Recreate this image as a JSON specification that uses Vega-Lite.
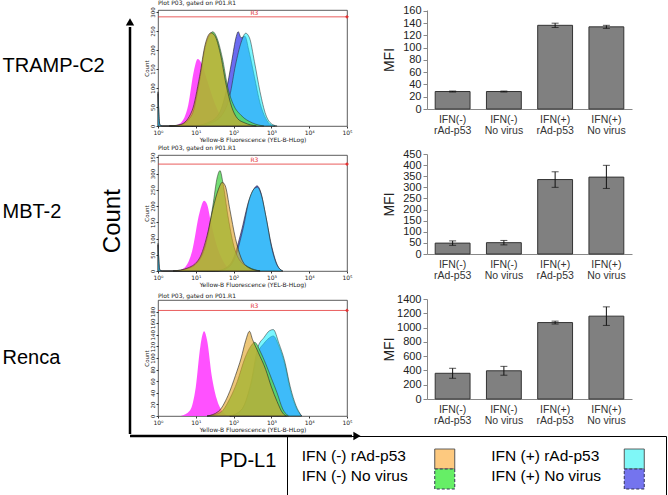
{
  "$schema": "https://vega.github.io/schema/vega-lite/v6.json",
  "padding": {"left": 2, "top": -1, "right": 0, "bottom": 0},
  "background": "white",
  "spacing": -14.5,
  "config": {"font": "Liberation Sans", "view": {"stroke": null}},
  "datasets": {
    "hist": [
      {"p":"T","s":"mag","x":0.4,"y":0},{"p":"T","s":"mag","x":0.6,"y":8},{"p":"T","s":"mag","x":0.8,"y":55},{"p":"T","s":"mag","x":0.95,"y":145},{"p":"T","s":"mag","x":1.05,"y":176},{"p":"T","s":"mag","x":1.15,"y":165},{"p":"T","s":"mag","x":1.3,"y":120},{"p":"T","s":"mag","x":1.5,"y":60},{"p":"T","s":"mag","x":1.7,"y":20},{"p":"T","s":"mag","x":1.9,"y":5},{"p":"T","s":"mag","x":2.1,"y":0},
      {"p":"T","s":"blue","x":0,"y":90},{"p":"T","s":"blue","x":0.05,"y":3},{"p":"T","s":"blue","x":0.12,"y":0},{"p":"T","s":"blue","x":0.9,"y":0},{"p":"T","s":"blue","x":1.3,"y":8},{"p":"T","s":"blue","x":1.6,"y":30},{"p":"T","s":"blue","x":1.8,"y":90},{"p":"T","s":"blue","x":1.95,"y":170},{"p":"T","s":"blue","x":2.07,"y":235},{"p":"T","s":"blue","x":2.12,"y":248},{"p":"T","s":"blue","x":2.2,"y":232},{"p":"T","s":"blue","x":2.3,"y":236},{"p":"T","s":"blue","x":2.4,"y":200},{"p":"T","s":"blue","x":2.55,"y":130},{"p":"T","s":"blue","x":2.7,"y":60},{"p":"T","s":"blue","x":2.85,"y":20},{"p":"T","s":"blue","x":3.0,"y":2},{"p":"T","s":"blue","x":3.1,"y":0},
      {"p":"T","s":"cyan","x":0,"y":85},{"p":"T","s":"cyan","x":0.05,"y":3},{"p":"T","s":"cyan","x":0.12,"y":0},{"p":"T","s":"cyan","x":1.0,"y":0},{"p":"T","s":"cyan","x":1.4,"y":8},{"p":"T","s":"cyan","x":1.7,"y":30},{"p":"T","s":"cyan","x":1.9,"y":80},{"p":"T","s":"cyan","x":2.05,"y":160},{"p":"T","s":"cyan","x":2.2,"y":220},{"p":"T","s":"cyan","x":2.32,"y":244},{"p":"T","s":"cyan","x":2.42,"y":232},{"p":"T","s":"cyan","x":2.55,"y":170},{"p":"T","s":"cyan","x":2.7,"y":90},{"p":"T","s":"cyan","x":2.85,"y":30},{"p":"T","s":"cyan","x":3.0,"y":6},{"p":"T","s":"cyan","x":3.15,"y":0},
      {"p":"T","s":"orange","x":0.3,"y":0},{"p":"T","s":"orange","x":0.6,"y":4},{"p":"T","s":"orange","x":0.9,"y":40},{"p":"T","s":"orange","x":1.1,"y":130},{"p":"T","s":"orange","x":1.25,"y":215},{"p":"T","s":"orange","x":1.4,"y":245},{"p":"T","s":"orange","x":1.5,"y":238},{"p":"T","s":"orange","x":1.65,"y":190},{"p":"T","s":"orange","x":1.8,"y":110},{"p":"T","s":"orange","x":1.95,"y":50},{"p":"T","s":"orange","x":2.1,"y":20},{"p":"T","s":"orange","x":2.3,"y":8},{"p":"T","s":"orange","x":2.6,"y":0},
      {"p":"T","s":"green","x":0.3,"y":0},{"p":"T","s":"green","x":0.6,"y":3},{"p":"T","s":"green","x":0.9,"y":30},{"p":"T","s":"green","x":1.1,"y":120},{"p":"T","s":"green","x":1.25,"y":208},{"p":"T","s":"green","x":1.38,"y":242},{"p":"T","s":"green","x":1.45,"y":248},{"p":"T","s":"green","x":1.55,"y":234},{"p":"T","s":"green","x":1.7,"y":180},{"p":"T","s":"green","x":1.85,"y":100},{"p":"T","s":"green","x":2.0,"y":55},{"p":"T","s":"green","x":2.2,"y":28},{"p":"T","s":"green","x":2.5,"y":8},{"p":"T","s":"green","x":2.8,"y":0},

      {"p":"M","s":"mag","x":0.5,"y":0},{"p":"M","s":"mag","x":0.7,"y":10},{"p":"M","s":"mag","x":0.9,"y":60},{"p":"M","s":"mag","x":1.1,"y":180},{"p":"M","s":"mag","x":1.22,"y":216},{"p":"M","s":"mag","x":1.3,"y":205},{"p":"M","s":"mag","x":1.4,"y":150},{"p":"M","s":"mag","x":1.55,"y":80},{"p":"M","s":"mag","x":1.75,"y":25},{"p":"M","s":"mag","x":2.0,"y":0},
      {"p":"M","s":"blue","x":0,"y":85},{"p":"M","s":"blue","x":0.05,"y":3},{"p":"M","s":"blue","x":0.12,"y":0},{"p":"M","s":"blue","x":1.5,"y":0},{"p":"M","s":"blue","x":1.8,"y":10},{"p":"M","s":"blue","x":2.0,"y":40},{"p":"M","s":"blue","x":2.2,"y":120},{"p":"M","s":"blue","x":2.4,"y":215},{"p":"M","s":"blue","x":2.55,"y":255},{"p":"M","s":"blue","x":2.62,"y":262},{"p":"M","s":"blue","x":2.72,"y":242},{"p":"M","s":"blue","x":2.85,"y":170},{"p":"M","s":"blue","x":3.0,"y":80},{"p":"M","s":"blue","x":3.15,"y":20},{"p":"M","s":"blue","x":3.3,"y":0},
      {"p":"M","s":"cyan","x":0,"y":80},{"p":"M","s":"cyan","x":0.05,"y":3},{"p":"M","s":"cyan","x":0.12,"y":0},{"p":"M","s":"cyan","x":1.6,"y":0},{"p":"M","s":"cyan","x":1.85,"y":10},{"p":"M","s":"cyan","x":2.05,"y":45},{"p":"M","s":"cyan","x":2.25,"y":130},{"p":"M","s":"cyan","x":2.42,"y":222},{"p":"M","s":"cyan","x":2.56,"y":255},{"p":"M","s":"cyan","x":2.63,"y":258},{"p":"M","s":"cyan","x":2.73,"y":235},{"p":"M","s":"cyan","x":2.86,"y":165},{"p":"M","s":"cyan","x":3.0,"y":75},{"p":"M","s":"cyan","x":3.15,"y":18},{"p":"M","s":"cyan","x":3.3,"y":0},
      {"p":"M","s":"orange","x":0.4,"y":0},{"p":"M","s":"orange","x":0.8,"y":10},{"p":"M","s":"orange","x":1.1,"y":40},{"p":"M","s":"orange","x":1.3,"y":110},{"p":"M","s":"orange","x":1.45,"y":190},{"p":"M","s":"orange","x":1.6,"y":252},{"p":"M","s":"orange","x":1.7,"y":273},{"p":"M","s":"orange","x":1.78,"y":262},{"p":"M","s":"orange","x":1.9,"y":190},{"p":"M","s":"orange","x":2.05,"y":100},{"p":"M","s":"orange","x":2.2,"y":40},{"p":"M","s":"orange","x":2.4,"y":10},{"p":"M","s":"orange","x":2.7,"y":0},
      {"p":"M","s":"green","x":0.4,"y":0},{"p":"M","s":"green","x":0.8,"y":8},{"p":"M","s":"green","x":1.1,"y":35},{"p":"M","s":"green","x":1.3,"y":100},{"p":"M","s":"green","x":1.45,"y":200},{"p":"M","s":"green","x":1.57,"y":290},{"p":"M","s":"green","x":1.64,"y":309},{"p":"M","s":"green","x":1.72,"y":270},{"p":"M","s":"green","x":1.85,"y":170},{"p":"M","s":"green","x":2.0,"y":80},{"p":"M","s":"green","x":2.15,"y":35},{"p":"M","s":"green","x":2.4,"y":12},{"p":"M","s":"green","x":2.7,"y":0},

      {"p":"R","s":"mag","x":0.6,"y":0},{"p":"R","s":"mag","x":0.85,"y":10},{"p":"R","s":"mag","x":1.0,"y":50},{"p":"R","s":"mag","x":1.12,"y":120},{"p":"R","s":"mag","x":1.22,"y":146},{"p":"R","s":"mag","x":1.3,"y":130},{"p":"R","s":"mag","x":1.42,"y":70},{"p":"R","s":"mag","x":1.55,"y":30},{"p":"R","s":"mag","x":1.7,"y":8},{"p":"R","s":"mag","x":1.85,"y":0},
      {"p":"R","s":"blue","x":1.9,"y":0},{"p":"R","s":"blue","x":2.2,"y":10},{"p":"R","s":"blue","x":2.45,"y":50},{"p":"R","s":"blue","x":2.65,"y":110},{"p":"R","s":"blue","x":2.8,"y":125},{"p":"R","s":"blue","x":2.95,"y":135},{"p":"R","s":"blue","x":3.05,"y":138},{"p":"R","s":"blue","x":3.2,"y":120},{"p":"R","s":"blue","x":3.35,"y":90},{"p":"R","s":"blue","x":3.5,"y":45},{"p":"R","s":"blue","x":3.65,"y":15},{"p":"R","s":"blue","x":3.8,"y":0},
      {"p":"R","s":"cyan","x":1.9,"y":0},{"p":"R","s":"cyan","x":2.2,"y":10},{"p":"R","s":"cyan","x":2.45,"y":55},{"p":"R","s":"cyan","x":2.65,"y":120},{"p":"R","s":"cyan","x":2.8,"y":135},{"p":"R","s":"cyan","x":2.95,"y":147},{"p":"R","s":"cyan","x":3.05,"y":149},{"p":"R","s":"cyan","x":3.2,"y":125},{"p":"R","s":"cyan","x":3.35,"y":95},{"p":"R","s":"cyan","x":3.5,"y":50},{"p":"R","s":"cyan","x":3.65,"y":18},{"p":"R","s":"cyan","x":3.8,"y":0},
      {"p":"R","s":"orange","x":1.3,"y":0},{"p":"R","s":"orange","x":1.6,"y":8},{"p":"R","s":"orange","x":1.85,"y":35},{"p":"R","s":"orange","x":2.05,"y":70},{"p":"R","s":"orange","x":2.2,"y":100},{"p":"R","s":"orange","x":2.32,"y":130},{"p":"R","s":"orange","x":2.42,"y":146},{"p":"R","s":"orange","x":2.5,"y":132},{"p":"R","s":"orange","x":2.65,"y":110},{"p":"R","s":"orange","x":2.85,"y":80},{"p":"R","s":"orange","x":3.0,"y":50},{"p":"R","s":"orange","x":3.15,"y":25},{"p":"R","s":"orange","x":3.3,"y":5},{"p":"R","s":"orange","x":3.4,"y":0},
      {"p":"R","s":"green","x":1.3,"y":0},{"p":"R","s":"green","x":1.65,"y":6},{"p":"R","s":"green","x":1.9,"y":30},{"p":"R","s":"green","x":2.1,"y":60},{"p":"R","s":"green","x":2.3,"y":100},{"p":"R","s":"green","x":2.45,"y":120},{"p":"R","s":"green","x":2.56,"y":127},{"p":"R","s":"green","x":2.7,"y":112},{"p":"R","s":"green","x":2.85,"y":90},{"p":"R","s":"green","x":3.0,"y":65},{"p":"R","s":"green","x":3.15,"y":40},{"p":"R","s":"green","x":3.3,"y":12},{"p":"R","s":"green","x":3.45,"y":0}
    ],
    "r3": [
      {"p":"T","k":"line","x":0,"x2":5,"y":287},{"p":"T","k":"lab","x":2.55,"y":287,"t":"R3"},{"p":"T","k":"end","x":5,"y":287},
      {"p":"M","k":"line","x":0,"x2":5,"y":329},{"p":"M","k":"lab","x":2.55,"y":329,"t":"R3"},{"p":"M","k":"end","x":5,"y":329},
      {"p":"R","k":"line","x":0,"x2":5,"y":182},{"p":"R","k":"lab","x":2.55,"y":182,"t":"R3"},{"p":"R","k":"end","x":5,"y":182}
    ],
    "bars": [
      {"p":"T","c":"IFN(-)|rAd-p53","v":28.5,"lo":27.7,"hi":29.3},
      {"p":"T","c":"IFN(-)|No virus","v":28.5,"lo":27.7,"hi":29.3},
      {"p":"T","c":"IFN(+)|rAd-p53","v":136.5,"lo":133,"hi":140},
      {"p":"T","c":"IFN(+)|No virus","v":134,"lo":131.5,"hi":136.5},
      {"p":"M","c":"IFN(-)|rAd-p53","v":49,"lo":39,"hi":59},
      {"p":"M","c":"IFN(-)|No virus","v":51,"lo":41,"hi":61},
      {"p":"M","c":"IFN(+)|rAd-p53","v":335,"lo":300,"hi":370},
      {"p":"M","c":"IFN(+)|No virus","v":346,"lo":295,"hi":399},
      {"p":"R","c":"IFN(-)|rAd-p53","v":360,"lo":290,"hi":430},
      {"p":"R","c":"IFN(-)|No virus","v":395,"lo":333,"hi":457},
      {"p":"R","c":"IFN(+)|rAd-p53","v":1070,"lo":1050,"hi":1090},
      {"p":"R","c":"IFN(+)|No virus","v":1160,"lo":1030,"hi":1290}
    ]
  },
  "vconcat": [
    {
      "spacing": 8,
      "hconcat": [
        {
          "width": 30,
          "height": 424,
          "resolve": {"scale": {"y": "independent", "x": "independent"}, "axis": {"y": "independent"}},
          "layer": [
            {
              "data": {"values": [{"cell": "TRAMP-C2"}, {"cell": "MBT-2"}, {"cell": "Renca"}]},
              "mark": {"type": "point", "opacity": 0},
              "encoding": {
                "y": {"field": "cell", "type": "nominal", "sort": null, "scale": {"type": "point", "padding": 0.454},
                  "axis": {"title": null, "ticks": false, "domain": false, "labelAlign": "left", "labelBaseline": "middle", "labelPadding": 98, "labelFontSize": 20, "labelFont": "Liberation Sans", "labelColor": "#000", "labelOffset": -10.5}}
              }
            },
            {
              "data": {"values": [{"t": "Count", "a": 0.433, "b": 0.502}]},
              "mark": {"type": "text", "angle": 270, "fontSize": 24, "font": "Liberation Sans", "align": "center", "baseline": "middle", "color": "#000"},
              "encoding": {
                "x": {"field": "a", "type": "quantitative", "scale": {"domain": [0, 1]}, "axis": null},
                "y": {"field": "b", "type": "quantitative", "scale": {"domain": [0, 1]}, "axis": null},
                "text": {"field": "t"}
              }
            },
            {
              "data": {"values": [{"a": 1, "b": 0, "b2": 0.96}]},
              "mark": {"type": "rule", "strokeWidth": 2.5, "color": "#000"},
              "encoding": {
                "x": {"field": "a", "type": "quantitative", "scale": {"domain": [0, 1]}, "axis": null},
                "y": {"field": "b", "type": "quantitative", "scale": {"domain": [0, 1]}, "axis": null},
                "y2": {"field": "b2"}
              }
            },
            {
              "data": {"values": [{"a": 1, "b": 0.972}]},
              "mark": {"type": "point", "shape": "triangle-up", "filled": true, "size": 70, "color": "#000", "opacity": 1},
              "encoding": {
                "x": {"field": "a", "type": "quantitative", "scale": {"domain": [0, 1]}, "axis": null},
                "y": {"field": "b", "type": "quantitative", "scale": {"domain": [0, 1]}, "axis": null}
              }
            }
          ]
        },
        {
          "spacing": 29,
          "hconcat": [
            {
              "bounds": "flush",
              "spacing": 29,
              "vconcat": [
                {
                  "width": 189, "height": 116,
                  "title": {"text": "Plot P03, gated on P01.R1", "fontSize": 6, "anchor": "start", "frame": "group", "offset": 1, "fontWeight": "normal", "font": "DejaVu Sans", "color": "#222"},
                  "view": {"stroke": "#333", "strokeWidth": 0.8},
                  "data": {"name": "hist"},
                  "encoding": {
                    "x": {"field": "x", "type": "quantitative", "scale": {"domain": [0, 5], "nice": false},
                      "axis": {"title": "Yellow-B Fluorescence (YEL-B-HLog)", "titleFontSize": 6, "titleFont": "DejaVu Sans", "titleFontWeight": "normal", "titlePadding": 1, "titleColor": "#222", "values": [0, 1, 2, 3, 4, 5], "labelExpr": "'10' + ['⁰','¹','²','³','⁴','⁵'][datum.value]", "labelFontSize": 6, "labelFont": "DejaVu Sans", "labelColor": "#222", "labelFlush": false, "labelPadding": 1, "tickSize": 2, "tickColor": "#333", "domain": false, "grid": false}},
                    "y": {"field": "y", "type": "quantitative", "scale": {"domain": [0, 305], "nice": false},
                      "axis": {"title": "Count", "titleFontSize": 5.5, "titleFont": "DejaVu Sans", "titleFontWeight": "normal", "titlePadding": 1, "titleColor": "#222", "values": [0, 50, 100, 150, 200, 250, 300], "labelAngle": 270, "labelFontSize": 5.5, "labelFont": "DejaVu Sans", "labelColor": "#222", "labelPadding": 1, "tickSize": 2, "tickColor": "#333", "domain": false, "grid": false}}
                  },
                  "layer": [
                    {"transform": [{"filter": "datum.p=='T' && datum.s=='mag'"}], "mark": {"type": "area", "interpolate": "monotone", "fill": "#ff33ff", "fillOpacity": 0.85}},
                    {"transform": [{"filter": "datum.p=='T' && datum.s=='blue'"}], "mark": {"type": "area", "interpolate": "monotone", "fill": "#6b6bf0", "fillOpacity": 1, "stroke": "#222", "strokeWidth": 0.6}},
                    {"transform": [{"filter": "datum.p=='T' && datum.s=='cyan'"}], "mark": {"type": "area", "interpolate": "monotone", "fill": "#20f0ff", "fillOpacity": 0.6, "stroke": "#222", "strokeWidth": 0.5}},
                    {"transform": [{"filter": "datum.p=='T' && datum.s=='green'"}], "mark": {"type": "area", "interpolate": "monotone", "fill": "#5cd65c", "fillOpacity": 0.85, "stroke": "#222", "strokeWidth": 0.5}},
                    {"transform": [{"filter": "datum.p=='T' && datum.s=='orange'"}], "mark": {"type": "area", "interpolate": "monotone", "fill": "#e0a020", "fillOpacity": 0.6, "stroke": "#222", "strokeWidth": 0.6}},
                    {"data": {"name": "r3"}, "transform": [{"filter": "datum.p=='T' && datum.k=='line'"}], "mark": {"type": "rule", "color": "#e33333", "strokeWidth": 0.8}, "encoding": {"x2": {"field": "x2"}}},
                    {"data": {"name": "r3"}, "transform": [{"filter": "datum.p=='T' && datum.k=='lab'"}], "mark": {"type": "text", "color": "#e33333", "fontSize": 6, "dy": -4, "font": "DejaVu Sans"}, "encoding": {"text": {"field": "t"}}},
                    {"data": {"name": "r3"}, "transform": [{"filter": "datum.p=='T' && datum.k=='end'"}], "mark": {"type": "point", "shape": "diamond", "filled": true, "size": 14, "color": "#e33333", "opacity": 1}}
                  ]
                },
                {
                  "width": 189, "height": 116,
                  "title": {"text": "Plot P03, gated on P01.R1", "fontSize": 6, "anchor": "start", "frame": "group", "offset": 1, "fontWeight": "normal", "font": "DejaVu Sans", "color": "#222"},
                  "view": {"stroke": "#333", "strokeWidth": 0.8},
                  "data": {"name": "hist"},
                  "encoding": {
                    "x": {"field": "x", "type": "quantitative", "scale": {"domain": [0, 5], "nice": false},
                      "axis": {"title": "Yellow-B Fluorescence (YEL-B-HLog)", "titleFontSize": 6, "titleFont": "DejaVu Sans", "titleFontWeight": "normal", "titlePadding": 1, "titleColor": "#222", "values": [0, 1, 2, 3, 4, 5], "labelExpr": "'10' + ['⁰','¹','²','³','⁴','⁵'][datum.value]", "labelFontSize": 6, "labelFont": "DejaVu Sans", "labelColor": "#222", "labelFlush": false, "labelPadding": 1, "tickSize": 2, "tickColor": "#333", "domain": false, "grid": false}},
                    "y": {"field": "y", "type": "quantitative", "scale": {"domain": [0, 357], "nice": false},
                      "axis": {"title": "Count", "titleFontSize": 5.5, "titleFont": "DejaVu Sans", "titleFontWeight": "normal", "titlePadding": 1, "titleColor": "#222", "values": [0, 50, 100, 150, 200, 250, 300, 350], "labelAngle": 270, "labelFontSize": 5.5, "labelFont": "DejaVu Sans", "labelColor": "#222", "labelPadding": 1, "tickSize": 2, "tickColor": "#333", "domain": false, "grid": false}}
                  },
                  "layer": [
                    {"transform": [{"filter": "datum.p=='M' && datum.s=='mag'"}], "mark": {"type": "area", "interpolate": "monotone", "fill": "#ff33ff", "fillOpacity": 0.85}},
                    {"transform": [{"filter": "datum.p=='M' && datum.s=='blue'"}], "mark": {"type": "area", "interpolate": "monotone", "fill": "#6b6bf0", "fillOpacity": 1, "stroke": "#222", "strokeWidth": 0.6}},
                    {"transform": [{"filter": "datum.p=='M' && datum.s=='cyan'"}], "mark": {"type": "area", "interpolate": "monotone", "fill": "#20f0ff", "fillOpacity": 0.6, "stroke": "#222", "strokeWidth": 0.5}},
                    {"transform": [{"filter": "datum.p=='M' && datum.s=='green'"}], "mark": {"type": "area", "interpolate": "monotone", "fill": "#5cd65c", "fillOpacity": 0.85, "stroke": "#222", "strokeWidth": 0.5}},
                    {"transform": [{"filter": "datum.p=='M' && datum.s=='orange'"}], "mark": {"type": "area", "interpolate": "monotone", "fill": "#e0a020", "fillOpacity": 0.6, "stroke": "#222", "strokeWidth": 0.6}},
                    {"data": {"name": "r3"}, "transform": [{"filter": "datum.p=='M' && datum.k=='line'"}], "mark": {"type": "rule", "color": "#e33333", "strokeWidth": 0.8}, "encoding": {"x2": {"field": "x2"}}},
                    {"data": {"name": "r3"}, "transform": [{"filter": "datum.p=='M' && datum.k=='lab'"}], "mark": {"type": "text", "color": "#e33333", "fontSize": 6, "dy": -4, "font": "DejaVu Sans"}, "encoding": {"text": {"field": "t"}}},
                    {"data": {"name": "r3"}, "transform": [{"filter": "datum.p=='M' && datum.k=='end'"}], "mark": {"type": "point", "shape": "diamond", "filled": true, "size": 14, "color": "#e33333", "opacity": 1}}
                  ]
                },
                {
                  "width": 189, "height": 116,
                  "title": {"text": "Plot P03, gated on P01.R1", "fontSize": 6, "anchor": "start", "frame": "group", "offset": 1, "fontWeight": "normal", "font": "DejaVu Sans", "color": "#222"},
                  "view": {"stroke": "#333", "strokeWidth": 0.8},
                  "data": {"name": "hist"},
                  "encoding": {
                    "x": {"field": "x", "type": "quantitative", "scale": {"domain": [0, 5], "nice": false},
                      "axis": {"title": "Yellow-B Fluorescence (YEL-B-HLog)", "titleFontSize": 6, "titleFont": "DejaVu Sans", "titleFontWeight": "normal", "titlePadding": 1, "titleColor": "#222", "values": [0, 1, 2, 3, 4, 5], "labelExpr": "'10' + ['⁰','¹','²','³','⁴','⁵'][datum.value]", "labelFontSize": 6, "labelFont": "DejaVu Sans", "labelColor": "#222", "labelFlush": false, "labelPadding": 1, "tickSize": 2, "tickColor": "#333", "domain": false, "grid": false}},
                    "y": {"field": "y", "type": "quantitative", "scale": {"domain": [0, 200], "nice": false},
                      "axis": {"title": "Count", "titleFontSize": 5.5, "titleFont": "DejaVu Sans", "titleFontWeight": "normal", "titlePadding": 1, "titleColor": "#222", "values": [0, 20, 40, 60, 80, 100, 120, 140, 160, 180], "labelAngle": 270, "labelFontSize": 5.5, "labelFont": "DejaVu Sans", "labelColor": "#222", "labelPadding": 1, "tickSize": 2, "tickColor": "#333", "domain": false, "grid": false}}
                  },
                  "layer": [
                    {"transform": [{"filter": "datum.p=='R' && datum.s=='mag'"}], "mark": {"type": "area", "interpolate": "monotone", "fill": "#ff33ff", "fillOpacity": 0.85}},
                    {"transform": [{"filter": "datum.p=='R' && datum.s=='blue'"}], "mark": {"type": "area", "interpolate": "monotone", "fill": "#6b6bf0", "fillOpacity": 1, "stroke": "#222", "strokeWidth": 0.6}},
                    {"transform": [{"filter": "datum.p=='R' && datum.s=='cyan'"}], "mark": {"type": "area", "interpolate": "monotone", "fill": "#20f0ff", "fillOpacity": 0.6, "stroke": "#222", "strokeWidth": 0.5}},
                    {"transform": [{"filter": "datum.p=='R' && datum.s=='green'"}], "mark": {"type": "area", "interpolate": "monotone", "fill": "#5cd65c", "fillOpacity": 0.85, "stroke": "#222", "strokeWidth": 0.5}},
                    {"transform": [{"filter": "datum.p=='R' && datum.s=='orange'"}], "mark": {"type": "area", "interpolate": "monotone", "fill": "#e0a020", "fillOpacity": 0.6, "stroke": "#222", "strokeWidth": 0.6}},
                    {"data": {"name": "r3"}, "transform": [{"filter": "datum.p=='R' && datum.k=='line'"}], "mark": {"type": "rule", "color": "#e33333", "strokeWidth": 0.8}, "encoding": {"x2": {"field": "x2"}}},
                    {"data": {"name": "r3"}, "transform": [{"filter": "datum.p=='R' && datum.k=='lab'"}], "mark": {"type": "text", "color": "#e33333", "fontSize": 6, "dy": -4, "font": "DejaVu Sans"}, "encoding": {"text": {"field": "t"}}},
                    {"data": {"name": "r3"}, "transform": [{"filter": "datum.p=='R' && datum.k=='end'"}], "mark": {"type": "point", "shape": "diamond", "filled": true, "size": 14, "color": "#e33333", "opacity": 1}}
                  ]
                }
              ]
            },
            {
              "bounds": "flush",
              "spacing": 45,
              "vconcat": [
                {
                  "width": 205, "height": 99,
                  "data": {"name": "bars"},
                  "transform": [{"filter": "datum.p=='T'"}],
                  "encoding": {
                    "x": {"field": "c", "type": "nominal", "sort": null, "scale": {"type": "band", "paddingInner": 0.32, "paddingOuter": 0.16},
                      "axis": {"title": null, "labelAngle": 0, "labelExpr": "split(datum.label, '|')", "ticks": false, "domainColor": "#888", "labelFontSize": 10.5, "labelColor": "#333", "labelPadding": 5, "labelLineHeight": 11, "labelFont": "Liberation Sans"}}
                  },
                  "layer": [
                    {"mark": {"type": "bar", "fill": "#808080", "stroke": "#333", "strokeWidth": 1},
                      "encoding": {"y": {"field": "v", "type": "quantitative", "title": "MFI", "scale": {"domain": [0, 161.5], "nice": false},
                        "axis": {"values": [0, 20, 40, 60, 80, 100, 120, 140, 160], "labelOverlap": false, "grid": false, "tickSize": 4, "tickColor": "#888", "domainColor": "#888", "labelFontSize": 11, "labelColor": "#222", "labelPadding": 2, "titleFontSize": 14, "titleFontWeight": "normal", "titleColor": "#222", "titleX": -31, "labelFont": "Liberation Sans", "titleFont": "Liberation Sans"}}}},
                    {"mark": {"type": "rule", "color": "#111", "strokeWidth": 1}, "encoding": {"y": {"field": "lo", "type": "quantitative", "title": "MFI", "scale": {"domain": [0, 161.5], "nice": false},
                        "axis": {"values": [0, 20, 40, 60, 80, 100, 120, 140, 160], "labelOverlap": false, "grid": false, "tickSize": 4, "tickColor": "#888", "domainColor": "#888", "labelFontSize": 11, "labelColor": "#222", "labelPadding": 2, "titleFontSize": 14, "titleFontWeight": "normal", "titleColor": "#222", "titleX": -31, "labelFont": "Liberation Sans", "titleFont": "Liberation Sans"}}, "y2": {"field": "hi"}}},
                    {"mark": {"type": "tick", "color": "#111", "size": 7, "thickness": 1}, "encoding": {"y": {"field": "lo", "type": "quantitative", "title": "MFI", "scale": {"domain": [0, 161.5], "nice": false},
                        "axis": {"values": [0, 20, 40, 60, 80, 100, 120, 140, 160], "labelOverlap": false, "grid": false, "tickSize": 4, "tickColor": "#888", "domainColor": "#888", "labelFontSize": 11, "labelColor": "#222", "labelPadding": 2, "titleFontSize": 14, "titleFontWeight": "normal", "titleColor": "#222", "titleX": -31, "labelFont": "Liberation Sans", "titleFont": "Liberation Sans"}}}},
                    {"mark": {"type": "tick", "color": "#111", "size": 7, "thickness": 1}, "encoding": {"y": {"field": "hi", "type": "quantitative", "title": "MFI", "scale": {"domain": [0, 161.5], "nice": false},
                        "axis": {"values": [0, 20, 40, 60, 80, 100, 120, 140, 160], "labelOverlap": false, "grid": false, "tickSize": 4, "tickColor": "#888", "domainColor": "#888", "labelFontSize": 11, "labelColor": "#222", "labelPadding": 2, "titleFontSize": 14, "titleFontWeight": "normal", "titleColor": "#222", "titleX": -31, "labelFont": "Liberation Sans", "titleFont": "Liberation Sans"}}}}
                  ]
                },
                {
                  "width": 205, "height": 100,
                  "data": {"name": "bars"},
                  "transform": [{"filter": "datum.p=='M'"}],
                  "encoding": {
                    "x": {"field": "c", "type": "nominal", "sort": null, "scale": {"type": "band", "paddingInner": 0.32, "paddingOuter": 0.16},
                      "axis": {"title": null, "labelAngle": 0, "labelExpr": "split(datum.label, '|')", "ticks": false, "domainColor": "#888", "labelFontSize": 10.5, "labelColor": "#333", "labelPadding": 5, "labelLineHeight": 11, "labelFont": "Liberation Sans"}}
                  },
                  "layer": [
                    {"mark": {"type": "bar", "fill": "#808080", "stroke": "#333", "strokeWidth": 1},
                      "encoding": {"y": {"field": "v", "type": "quantitative", "title": "MFI", "scale": {"domain": [0, 450], "nice": false},
                        "axis": {"values": [0, 50, 100, 150, 200, 250, 300, 350, 400, 450], "labelOverlap": false, "grid": false, "tickSize": 4, "tickColor": "#888", "domainColor": "#888", "labelFontSize": 11, "labelColor": "#222", "labelPadding": 2, "titleFontSize": 14, "titleFontWeight": "normal", "titleColor": "#222", "titleX": -31, "labelFont": "Liberation Sans", "titleFont": "Liberation Sans"}}}},
                    {"mark": {"type": "rule", "color": "#111", "strokeWidth": 1}, "encoding": {"y": {"field": "lo", "type": "quantitative", "title": "MFI", "scale": {"domain": [0, 450], "nice": false},
                        "axis": {"values": [0, 50, 100, 150, 200, 250, 300, 350, 400, 450], "labelOverlap": false, "grid": false, "tickSize": 4, "tickColor": "#888", "domainColor": "#888", "labelFontSize": 11, "labelColor": "#222", "labelPadding": 2, "titleFontSize": 14, "titleFontWeight": "normal", "titleColor": "#222", "titleX": -31, "labelFont": "Liberation Sans", "titleFont": "Liberation Sans"}}, "y2": {"field": "hi"}}},
                    {"mark": {"type": "tick", "color": "#111", "size": 7, "thickness": 1}, "encoding": {"y": {"field": "lo", "type": "quantitative", "title": "MFI", "scale": {"domain": [0, 450], "nice": false},
                        "axis": {"values": [0, 50, 100, 150, 200, 250, 300, 350, 400, 450], "labelOverlap": false, "grid": false, "tickSize": 4, "tickColor": "#888", "domainColor": "#888", "labelFontSize": 11, "labelColor": "#222", "labelPadding": 2, "titleFontSize": 14, "titleFontWeight": "normal", "titleColor": "#222", "titleX": -31, "labelFont": "Liberation Sans", "titleFont": "Liberation Sans"}}}},
                    {"mark": {"type": "tick", "color": "#111", "size": 7, "thickness": 1}, "encoding": {"y": {"field": "hi", "type": "quantitative", "title": "MFI", "scale": {"domain": [0, 450], "nice": false},
                        "axis": {"values": [0, 50, 100, 150, 200, 250, 300, 350, 400, 450], "labelOverlap": false, "grid": false, "tickSize": 4, "tickColor": "#888", "domainColor": "#888", "labelFontSize": 11, "labelColor": "#222", "labelPadding": 2, "titleFontSize": 14, "titleFontWeight": "normal", "titleColor": "#222", "titleX": -31, "labelFont": "Liberation Sans", "titleFont": "Liberation Sans"}}}}
                  ]
                },
                {
                  "width": 205, "height": 100,
                  "data": {"name": "bars"},
                  "transform": [{"filter": "datum.p=='R'"}],
                  "encoding": {
                    "x": {"field": "c", "type": "nominal", "sort": null, "scale": {"type": "band", "paddingInner": 0.32, "paddingOuter": 0.16},
                      "axis": {"title": null, "labelAngle": 0, "labelExpr": "split(datum.label, '|')", "ticks": false, "domainColor": "#888", "labelFontSize": 10.5, "labelColor": "#333", "labelPadding": 5, "labelLineHeight": 11, "labelFont": "Liberation Sans"}}
                  },
                  "layer": [
                    {"mark": {"type": "bar", "fill": "#808080", "stroke": "#333", "strokeWidth": 1},
                      "encoding": {"y": {"field": "v", "type": "quantitative", "title": "MFI", "scale": {"domain": [0, 1400], "nice": false},
                        "axis": {"values": [0, 200, 400, 600, 800, 1000, 1200, 1400], "format": "d", "labelOverlap": false, "grid": false, "tickSize": 4, "tickColor": "#888", "domainColor": "#888", "labelFontSize": 11, "labelColor": "#222", "labelPadding": 2, "titleFontSize": 14, "titleFontWeight": "normal", "titleColor": "#222", "titleX": -31, "labelFont": "Liberation Sans", "titleFont": "Liberation Sans"}}}},
                    {"mark": {"type": "rule", "color": "#111", "strokeWidth": 1}, "encoding": {"y": {"field": "lo", "type": "quantitative", "title": "MFI", "scale": {"domain": [0, 1400], "nice": false},
                        "axis": {"values": [0, 200, 400, 600, 800, 1000, 1200, 1400], "format": "d", "labelOverlap": false, "grid": false, "tickSize": 4, "tickColor": "#888", "domainColor": "#888", "labelFontSize": 11, "labelColor": "#222", "labelPadding": 2, "titleFontSize": 14, "titleFontWeight": "normal", "titleColor": "#222", "titleX": -31, "labelFont": "Liberation Sans", "titleFont": "Liberation Sans"}}, "y2": {"field": "hi"}}},
                    {"mark": {"type": "tick", "color": "#111", "size": 7, "thickness": 1}, "encoding": {"y": {"field": "lo", "type": "quantitative", "title": "MFI", "scale": {"domain": [0, 1400], "nice": false},
                        "axis": {"values": [0, 200, 400, 600, 800, 1000, 1200, 1400], "format": "d", "labelOverlap": false, "grid": false, "tickSize": 4, "tickColor": "#888", "domainColor": "#888", "labelFontSize": 11, "labelColor": "#222", "labelPadding": 2, "titleFontSize": 14, "titleFontWeight": "normal", "titleColor": "#222", "titleX": -31, "labelFont": "Liberation Sans", "titleFont": "Liberation Sans"}}}},
                    {"mark": {"type": "tick", "color": "#111", "size": 7, "thickness": 1}, "encoding": {"y": {"field": "hi", "type": "quantitative", "title": "MFI", "scale": {"domain": [0, 1400], "nice": false},
                        "axis": {"values": [0, 200, 400, 600, 800, 1000, 1200, 1400], "format": "d", "labelOverlap": false, "grid": false, "tickSize": 4, "tickColor": "#888", "domainColor": "#888", "labelFontSize": 11, "labelColor": "#222", "labelPadding": 2, "titleFontSize": 14, "titleFontWeight": "normal", "titleColor": "#222", "titleX": -31, "labelFont": "Liberation Sans", "titleFont": "Liberation Sans"}}}}
                  ]
                }
              ]
            }
          ]
        }
      ]
    },
    {
      "bounds": "flush",
      "spacing": 0,
      "hconcat": [
        {
          "width": 187, "height": 60,
          "layer": [
            {
              "data": {"values": [{"a": 30, "b": 252, "y": 60}]},
              "mark": {"type": "rule", "strokeWidth": 2.5, "color": "#000"},
              "encoding": {
                "x": {"field": "a", "type": "quantitative", "scale": {"domain": [0, 187]}, "axis": null},
                "x2": {"field": "b"},
                "y": {"field": "y", "type": "quantitative", "scale": {"domain": [0, 60]}, "axis": null}
              }
            },
            {
              "data": {"values": [{"a": 257, "y": 60}]},
              "mark": {"type": "point", "shape": "triangle-right", "filled": true, "size": 70, "color": "#000", "opacity": 1},
              "encoding": {
                "x": {"field": "a", "type": "quantitative", "scale": {"domain": [0, 187]}, "axis": null},
                "y": {"field": "y", "type": "quantitative", "scale": {"domain": [0, 60]}, "axis": null}
              }
            },
            {
              "data": {"values": [{"a": 148, "y": 35, "t": "PD-L1"}]},
              "mark": {"type": "text", "fontSize": 20, "font": "Liberation Sans", "color": "#000"},
              "encoding": {
                "x": {"field": "a", "type": "quantitative", "scale": {"domain": [0, 187]}, "axis": null},
                "y": {"field": "y", "type": "quantitative", "scale": {"domain": [0, 60]}, "axis": null},
                "text": {"field": "t"}
              }
            }
          ]
        },
        {
          "width": 379, "height": 60,
          "view": {"stroke": "#000", "strokeWidth": 1},
          "data": {"values": [
            {"c": "m", "r": "a", "t": "IFN (-) rAd-p53", "k": "or"},
            {"c": "m", "r": "b", "t": "IFN (-) No virus", "k": "gr"},
            {"c": "p", "r": "a", "t": "IFN (+) rAd-p53", "k": "cy"},
            {"c": "p", "r": "b", "t": "IFN (+) No virus", "k": "bl"}
          ]},
          "encoding": {
            "x": {"field": "c", "type": "nominal", "sort": null, "axis": null, "scale": {"type": "point", "padding": 0.5}},
            "y": {"field": "r", "type": "nominal", "sort": null, "axis": null, "scale": {"type": "point", "padding": 1.08}}
          },
          "layer": [
            {"mark": {"type": "text", "align": "left", "baseline": "middle", "dx": -80, "fontSize": 15.5, "font": "Liberation Sans", "color": "#000"}, "encoding": {"text": {"field": "t"}}},
            {"mark": {"type": "point", "shape": "square", "filled": true, "size": 400, "xOffset": 63, "yOffset": 3, "opacity": 1, "strokeWidth": 1},
              "encoding": {
                "fill": {"field": "k", "type": "nominal", "legend": null, "scale": {"domain": ["or", "gr", "cy", "bl"], "range": ["#fdc97f", "#66ee66", "#7ff7f7", "#7474ee"]}},
                "stroke": {"field": "k", "type": "nominal", "legend": null, "scale": {"domain": ["or", "gr", "cy", "bl"], "range": ["#555555", "#333355", "#555555", "#333355"]}},
                "strokeDash": {"field": "k", "type": "nominal", "legend": null, "scale": {"domain": ["or", "gr", "cy", "bl"], "range": [[1, 0], [3, 2], [1, 0], [3, 2]]}}
              }}
          ]
        }
      ]
    }
  ]
}
